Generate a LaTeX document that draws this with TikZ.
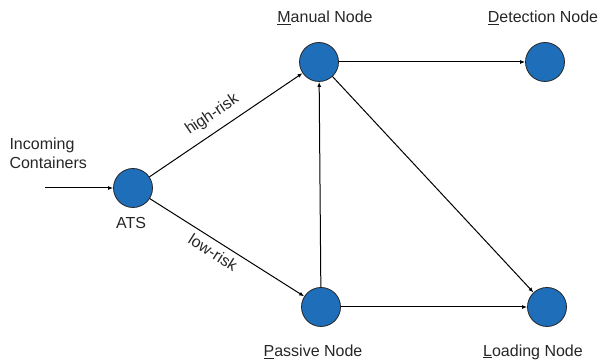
\documentclass[tikz,border=0pt]{standalone}
\usepackage{fontspec}
\setmainfont{Liberation Sans}
\usetikzlibrary{arrows.meta}
\definecolor{nodeblue}{RGB}{30,110,185}
\tikzset{
  station/.style={circle,draw=black!85,fill=nodeblue,minimum size=39pt,inner sep=0pt,line width=0.8pt},
  flow/.style={-{Latex[length=5pt,width=4pt]},line width=1pt},
  caption/.style={font=\fontsize{16}{19}\selectfont,text=black!85}
}
\begin{document}
\begin{tikzpicture}[x=1pt,y=1pt]
            \useasboundingbox (0,0) rectangle (600,364);

            \node[station] (ats) at (133,176) {};
            \node[station] (manual) at (319,302) {};
            \node[station] (detect) at (545,302) {};
            \node[station] (passive) at (321,57) {};
            \node[station] (load) at (547,57) {};
            \coordinate (src) at (45,176);

            \node[caption,align=left,anchor=west] (incoming) at (6,211) {Incoming\\Containers};
            \node[caption] (atslabel) at (131,141) {ATS};
            \node[caption] (manuallabel) at (325,346) {\underline{M}anual Node};
            \node[caption] (detectlabel) at (543,346) {\underline{D}etection Node};
            \node[caption] (passivelabel) at (313,12) {\underline{P}assive Node};
            \node[caption] (loadlabel) at (533,12) {\underline{L}oading Node};

            \draw[flow] (src)--(ats);
            \draw[flow] (ats)--(manual) node[caption,sloped,above=5pt,pos=0.47]{high-risk};
            \draw[flow] (ats)--(passive) node[caption,sloped,below=2pt,pos=0.45]{low-risk};
            \draw[flow] (manual)--(detect);
            \draw[flow] (manual)--(load);
            \draw[flow] (passive)--(manual);
            \draw[flow] (passive)--(load);
        \end{tikzpicture}
\end{document}
